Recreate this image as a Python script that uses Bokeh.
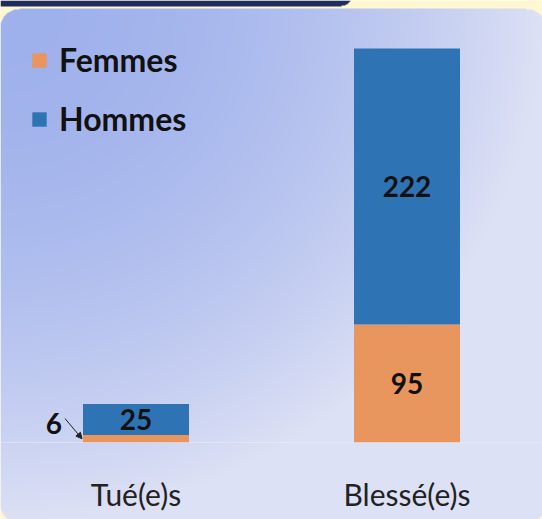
import numpy as np
from bokeh.plotting import figure
from bokeh.models import ColumnDataSource, Legend, LegendItem, Span, Arrow, NormalHead, FactorRange
from bokeh.core.properties import value
from bokeh.embed import file_html
from bokeh.resources import INLINE

# ---- data ----
categories = ["Tué(e)s", "Blessé(e)s"]
femmes = [6, 95]
hommes = [25, 222]
series_names = ["Femmes", "Hommes"]
colors = ["#e8955e", "#2e74b5"]

W, H = 542, 519
BASE = 442                      # pixel row of the zero line
px_per_unit = (442 - 48) / 317.0
y_top = BASE / px_per_unit
y_bot = -(H - BASE) / px_per_unit
cat_px = W / len(categories)
bar_w = 106 / cat_px
FONT = "Lato"

p = figure(x_range=FactorRange(*categories), y_range=(y_bot, y_top),
           width=W, height=H, output_backend="svg", toolbar_location=None,
           min_border=0, outline_line_color=None)
p.axis.visible = False
p.grid.visible = False
p.border_fill_color = "#fff6d2"
p.background_fill_color = "#fff6d2"

# ---- decorative background: cream page, navy header strip, gradient panel ----
yy, xx = np.mgrid[0:H, 0:W].astype(float)
yy = yy[::-1]                   # image row 0 is the bottom -> use top-based pixel rows
bg = np.zeros((H, W, 3))
bg[...] = [255, 246, 210]


def rounded_mask(x0, y0, x1, y1, r):
    cx = np.clip(xx, x0 + r, x1 - r)
    cy = np.clip(yy, y0 + r, y1 - r)
    inside = (xx >= x0) & (xx <= x1) & (yy >= y0) & (yy <= y1)
    return inside & ((xx - cx) ** 2 + (yy - cy) ** 2 <= r * r)


navy = rounded_mask(-30, -30, 352, 5, 12)
bg[navy] = [31, 45, 92]
panel = rounded_mask(-1, 8, 545, 522, 20)
u = xx / W
v = yy / H
t = np.clip(u ** 2 + v ** 2, 0, 1)[..., None]
c0 = np.array([159, 177, 236])
c1 = np.array([221, 225, 245])
grad = c0 * (1 - t) + c1 * t
bg[panel] = grad[panel]
img = np.zeros((H, W), dtype=np.uint32)
view = img.view(dtype=np.uint8).reshape((H, W, 4))
view[..., :3] = bg.astype(np.uint8)
view[..., 3] = 255
p.image_rgba(image=[img], x=0, y=y_bot, dw=len(categories), dh=y_top - y_bot)

p.add_layout(Span(location=0, dimension="width", line_color="#eef0f8", line_alpha=0.45, line_width=1))

src = ColumnDataSource(dict(cat=categories, Femmes=femmes, Hommes=hommes))
rs = p.vbar_stack(series_names, x="cat", width=bar_w, color=colors, source=src, line_color=None)

legend = Legend(items=[LegendItem(label=n, renderers=[r]) for n, r in zip(series_names, rs)],
                location=(30, 381), glyph_width=18, glyph_height=18, label_height=34,
                spacing=20, padding=0, margin=0, label_standoff=11,
                label_text_font=FONT, label_text_font_style="bold",
                label_text_font_size="32px", label_text_color="#111111",
                background_fill_alpha=0, border_line_color=None)
p.add_layout(legend)

# value labels inside segments
lab_x, lab_y, lab_t = [], [], []
for i, c in enumerate(categories):
    if femmes[i] >= 20:
        lab_x.append(c); lab_y.append(femmes[i] / 2); lab_t.append(str(femmes[i]))
    lab_x.append(c); lab_y.append(femmes[i] + hommes[i] / 2); lab_t.append(str(hommes[i]))
p.text(x=lab_x, y=lab_y, text=lab_t, text_align="center", text_baseline="middle",
       text_font=value(FONT), text_font_style="bold", text_font_size="28px", text_color="#111111")

# small femmes value with pointer
left_edge = 0.5 - bar_w / 2
lx = left_edge - 21 / cat_px
ly = 19 / px_per_unit
p.text(x=[lx], y=[ly], text=[str(femmes[0])], text_align="right", text_baseline="middle",
       text_font=value(FONT), text_font_style="bold", text_font_size="28px", text_color="#111111")
p.add_layout(Arrow(end=NormalHead(size=6, line_color="#222222", fill_color="#222222"),
                   x_start=left_edge - 18 / cat_px, y_start=24 / px_per_unit,
                   x_end=left_edge - 1 / cat_px, y_end=femmes[0] / 2,
                   line_color="#222222", line_width=1))

# category labels
cat_y = -51 / px_per_unit
p.text(x=categories, y=[cat_y] * len(categories), text=categories, text_align="center",
       text_baseline="alphabetic", text_font=value(FONT), text_font_size="30px", text_color="#222222")

open("out.html", "w").write(file_html(p, INLINE))
